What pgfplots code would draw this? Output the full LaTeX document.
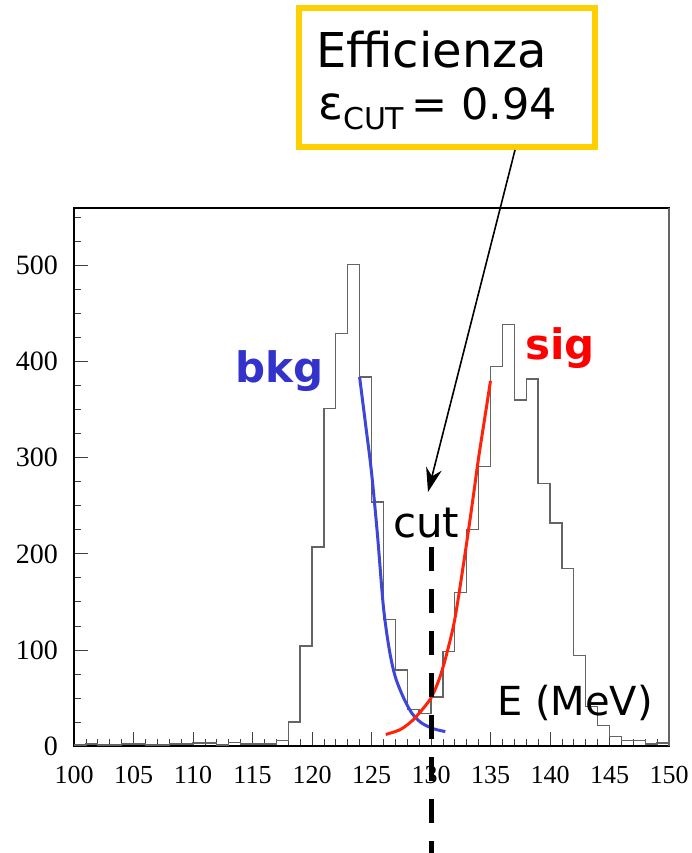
\documentclass[border=0pt]{standalone}
\usepackage{pgfplots}
\pgfplotsset{compat=1.18}
\usepackage{pgfplotstable}
\usepackage{fontspec}
\usetikzlibrary{arrows.meta}
\setmainfont{DejaVu Sans}
\newfontfamily\tickfont{Liberation Serif}
\newfontfamily\lab{DejaVu Sans}
\definecolor{bkgblue}{RGB}{60,70,215}
\definecolor{bkgtext}{RGB}{51,51,204}
\definecolor{sigred}{RGB}{255,35,10}
\definecolor{boxyellow}{RGB}{255,208,0}
\definecolor{histgray}{RGB}{100,100,100}

\pgfplotstableread{
x y
100 1
101 2
102 1
103 1
104 2
105 2
106 1
107 1
108 2
109 2
110 3
111 3
112 1
113 4
114 2
115 2
116 2
117 6
118 25
119 104
120 207
121 351
122 429
123 501
124 384
125 254
126 132
127 79
128 38
129 34
130 51
131 98
132 160
133 225
134 291
135 395
136 439
137 360
138 382
139 273
140 232
141 185
142 94
143 41
144 21
145 10
146 6
147 6
148 2
149 3
150 3
}\hist

\pgfplotstableread{
x y
124.0 384
124.5 335
125.0 285
125.5 220
126.0 145
126.5 100
127.0 72
127.7 50
128.4 34
129.2 24
130.2 18
131.2 15
}\bkg

\pgfplotstableread{
x y
126.2 12
127.4 17
128.3 25
129.0 34
130.0 50
130.7 70
131.3 95
132.0 132
132.8 195
133.5 255
134.0 300
134.5 340
135.0 380
}\sig

\begin{document}
\begin{tikzpicture}
\useasboundingbox (0,0) rectangle (692pt,853pt);
\begin{axis}[
  at={(74pt,107pt)}, anchor=south west,
  scale only axis, width=595pt, height=538pt,
  xmin=100, xmax=150, ymin=0, ymax=560,
  xtick={100,105,...,150}, ytick={0,100,...,500},
  xticklabels={100,105,110,115,120,125,130,135,140,145,150},
  yticklabels={0,100,200,300,400,500},
  minor xtick={100,101,...,150}, minor ytick={25,50,...,550},
  xtick pos=bottom, ytick pos=left,
  tick align=inside,
  major tick length=14pt, minor tick length=7pt,
  tick style={line width=0.8pt, color=black!75},
  axis line style={line width=1.3pt, black},
  clip=false,
  xticklabel style={font=\tickfont\fontsize{26}{26}\selectfont, inner sep=0pt, anchor=north, yshift=-20pt},
  yticklabel style={font=\tickfont\fontsize{28}{28}\selectfont, inner sep=0pt, anchor=east, xshift=-16pt},
]
\addplot[const plot mark left, histgray, line width=1.3pt] table[x=x,y=y] {\hist};
\addplot[bkgblue, line width=3pt, smooth] table[x=x,y=y] {\bkg};
\addplot[sigred, line width=3pt, smooth] table[x=x,y=y] {\sig};
\draw[black, line width=5pt, dash pattern=on 24pt off 18pt] (axis cs:130,207) -- (axis cs:130,-112);
\draw[histgray, line width=1.3pt] (rel axis cs:1,0) -- (rel axis cs:1,1);
\end{axis}
% efficiency box
\draw[boxyellow, line width=6pt] (299pt,845pt) rectangle (595pt,706pt);
\node[anchor=base west, inner sep=0pt, font=\lab\fontsize{48}{52}\selectfont] at (316pt,785pt) {Efficienza};
\node[anchor=base west, inner sep=0pt, font=\lab\fontsize{43}{50}\selectfont] at (318pt,733pt) {{\fontsize{46}{50}\selectfont ε}\raisebox{-10pt}{\fontsize{30}{32}\selectfont CUT}\,= 0.94};
\draw[-{Stealth[length=24pt,width=16pt]}, line width=1.6pt] (515pt,703pt) -- (428pt,361pt);
% labels
\node[anchor=base west, inner sep=0pt, text=bkgtext, font=\lab\bfseries\fontsize{42}{44}\selectfont] at (235pt,470pt) {bkg};
\node[anchor=base west, inner sep=0pt, text=red, font=\lab\bfseries\fontsize{42}{44}\selectfont] at (525pt,493pt) {sig};
\node[anchor=base west, inner sep=0pt, font=\lab\fontsize{42}{44}\selectfont] at (393pt,315pt) {cut};
\node[anchor=base west, inner sep=0pt, font=\lab\fontsize{40}{44}\selectfont] at (497pt,137pt) {E (MeV)};
\end{tikzpicture}
\end{document}
